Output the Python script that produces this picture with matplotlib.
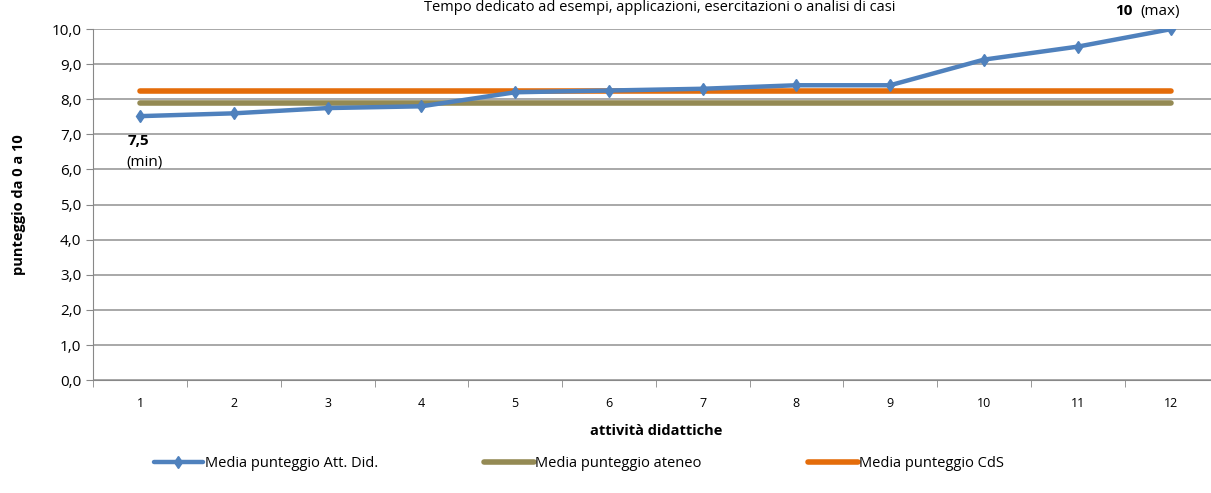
import matplotlib.pyplot as plt
import numpy as np

plt.rcParams['font.family'] = ['Open Sans', 'DejaVu Sans']

# dati
attivita = [1, 2, 3, 4, 5, 6, 7, 8, 9, 10, 11, 12]
media_att_did = [7.52, 7.6, 7.75, 7.8, 8.2, 8.25, 8.3, 8.4, 8.4, 9.13, 9.5, 10.0]
media_ateneo = [7.9] * 12
media_cds = [8.25] * 12
y_ticks = [0, 1, 2, 3, 4, 5, 6, 7, 8, 9, 10]

fig = plt.figure(figsize=(12.11, 4.93), dpi=100)
ax = fig.add_axes([0.077, 0.229, 0.929, 0.712])

ax.plot(attivita, media_att_did, color='#4F81BD', lw=3.2, marker='d', ms=6,
        label='Media punteggio Att. Did.', zorder=4, solid_capstyle='round')
ax.plot(attivita, media_ateneo, color='#948A54', lw=4, label='Media punteggio ateneo',
        zorder=3, solid_capstyle='round')
ax.plot(attivita, media_cds, color='#E46C0A', lw=4, label='Media punteggio CdS',
        zorder=3, solid_capstyle='round')

ax.set_xlim(0.5, 12.5)
ax.set_ylim(0, 10)
ax.set_yticks(y_ticks)
ax.set_yticklabels([f'{v:.1f}'.replace('.', ',') for v in y_ticks], fontsize=11)
ax.set_xticks(attivita)
ax.set_xticklabels([str(a) for a in attivita], fontsize=9)
ax.set_xticks(np.arange(0.5, 13, 1), minor=True)
ax.tick_params(axis='x', which='major', length=0, pad=12)
ax.tick_params(axis='x', which='minor', length=5, color='#888888')
ax.tick_params(axis='y', length=5, color='#888888')
ax.grid(axis='y', color='#999999', lw=1.2)
ax.set_axisbelow(True)
for s in ['top', 'right']:
    ax.spines[s].set_visible(False)
ax.spines['left'].set_color('#888888')
ax.spines['bottom'].set_color('#888888')

ax.set_xlabel('attività didattiche', fontsize=10.5, fontweight='bold', labelpad=10)
ax.set_ylabel('punteggio da 0 a 10', fontsize=10.5, fontweight='bold', labelpad=18)

ax.text(0.98, 7.5 - 0.7, '7,5', ha='center', va='center', fontsize=11, fontweight='bold')
ax.text(1.05, 7.5 - 1.3, '(min)', ha='center', va='center', fontsize=11)
ax.annotate('10', xy=(12, 10), xytext=(-34, 13), textcoords='offset points',
            ha='center', va='center', fontsize=11, fontweight='bold')
ax.annotate('(max)', xy=(12, 10), xytext=(-8, 13), textcoords='offset points',
            ha='center', va='center', fontsize=11)

fig.text(0.545, 0.999, 'Tempo dedicato ad esempi, applicazioni, esercitazioni o analisi di casi',
         ha='center', va='top', fontsize=10.5)

fig.legend(loc='center', bbox_to_anchor=(0.478, 0.06), ncol=3, frameon=False,
           fontsize=10.5, handlelength=3.4, columnspacing=7.3, handletextpad=0.1)

fig.savefig('out.png', dpi=100)
